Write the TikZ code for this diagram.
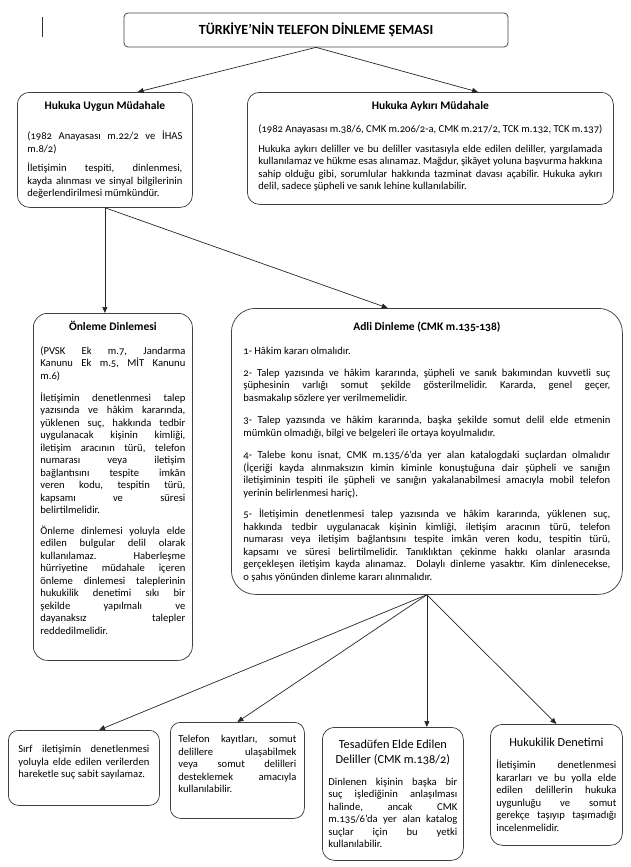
\documentclass[tikz,border=0pt]{standalone}
\usepackage{fontspec}
\setmainfont{Carlito}[Numbers=OldStyle]
\usetikzlibrary{arrows.meta,calc}
\frenchspacing

\newcommand{\bodyfont}{\fontsize{10.6}{12.5}\selectfont}
\newcommand{\headfont}{\fontsize{11.5}{14}\selectfont\bfseries}
\newcommand{\subheadfont}{\fontsize{12.3}{15}\selectfont}
\newcommand{\boxtext}[3]{\begin{minipage}[c][#2pt][t]{#1pt}\bodyfont #3\end{minipage}}
\newcommand{\boxhead}[1]{{\centering\headfont\strut #1\par}}

\tikzset{
  panel/.style={draw=black!75,line width=0.75pt,rounded corners=#1,anchor=north west,inner sep=0pt},
  panel/.default=10pt,
  link/.style={draw=black!85,line width=0.7pt,-{Triangle[length=6pt,width=5pt]}}
}

\begin{document}
\begin{tikzpicture}[x=1pt,y=-1pt]
\useasboundingbox (0,0) rectangle (630,867);
\draw[black!80,line width=0.6pt] (42,17) -- (42,37);

\node[panel=4pt,anchor=center,minimum width=384pt,minimum height=34pt,
  font=\fontsize{14}{16}\selectfont\bfseries] (title) at (316,30) {TÜRKİYE’NİN TELEFON DİNLEME ŞEMASI};

% second row
\node[panel=12pt,inner xsep=10pt,inner ysep=7pt] (uygun) at (17,92) {\boxtext{155}{101}{%
  \boxhead{Hukuka Uygun Müdahale}
  \vspace{16.7pt}
  (1982 Anayasası m.22/2 ve İHAS\linebreak m.8/2)\par
  \vspace{7pt}
  İletişimin tespiti, dinlenmesi,\linebreak kayda alınması ve sinyal bilgilerinin\linebreak değerlendirilmesi mümkündür.}};
\node[panel=12pt,inner xsep=11pt,inner ysep=7pt] (aykiri) at (247,92) {\boxtext{344}{98}{%
  \boxhead{Hukuka Aykırı Müdahale}
  \vspace{10.7pt}
  {\centering (1982 Anayasası m.38/6, CMK m.206/2-a, CMK m.217/2, TCK m.132, TCK m.137)\par}
  \vspace{7.5pt}
  Hukuka aykırı deliller ve bu deliller vasıtasıyla elde edilen deliller, yargılamada\linebreak kullanılamaz ve hükme esas alınamaz. Mağdur, şikâyet yoluna başvurma hakkına\linebreak sahip olduğu gibi, sorumlular hakkında tazminat davası açabilir. Hukuka aykırı\linebreak delil, sadece şüpheli ve sanık lehine kullanılabilir.}};

% third row
\node[panel=14pt,inner xsep=7pt,inner ysep=7pt] (onleme) at (33,313) {\boxtext{145}{333}{%
  \boxhead{Önleme Dinlemesi}
  \vspace{11.7pt}
  (PVSK Ek m.7, Jandarma\linebreak Kanunu Ek m.5, MİT Kanunu\linebreak m.6)\par
  \vspace{9.5pt}
  İletişimin denetlenmesi talep\linebreak yazısında ve hâkim kararında,\linebreak yüklenen suç, hakkında tedbir\linebreak uygulanacak kişinin kimliği,\linebreak iletişim aracının türü, telefon\linebreak numarası veya iletişim\linebreak bağlantısını tespite imkân\linebreak veren kodu, tespitin türü,\linebreak kapsamı ve süresi\linebreak belirtilmelidir.\par
  \vspace{8pt}
  Önleme dinlemesi yoluyla elde\linebreak edilen bulgular delil olarak\linebreak kullanılamaz. Haberleşme\linebreak hürriyetine müdahale içeren\linebreak önleme dinlemesi taleplerinin\linebreak hukukilik denetimi sıkı bir\linebreak şekilde yapılmalı ve\linebreak dayanaksız talepler\linebreak reddedilmelidir.}};
\node[panel=24pt,inner xsep=12pt,inner ysep=12pt] (adli) at (231,308) {\boxtext{367}{262}{%
  \boxhead{Adli Dinleme (CMK m.135-138)}
  \vspace{11.7pt}
  1- Hâkim kararı olmalıdır.\par
  \vspace{9.5pt}
  2- Talep yazısında ve hâkim kararında, şüpheli ve sanık bakımından kuvvetli suç\linebreak şüphesinin varlığı somut şekilde gösterilmelidir. Kararda, genel geçer,\linebreak basmakalıp sözlere yer verilmemelidir.\par
  \vspace{10pt}
  3- Talep yazısında ve hâkim kararında, başka şekilde somut delil elde etmenin\linebreak mümkün olmadığı, bilgi ve belgeleri ile ortaya koyulmalıdır.\par
  \vspace{10pt}
  4- Talebe konu isnat, CMK m.135/6’da yer alan katalogdaki suçlardan olmalıdır\linebreak (İçeriği kayda alınmaksızın kimin kiminle konuştuğuna dair şüpheli ve sanığın\linebreak iletişiminin tespiti ile şüpheli ve sanığın yakalanabilmesi amacıyla mobil telefon\linebreak yerinin belirlenmesi hariç).\par
  \vspace{9pt}
  5- İletişimin denetlenmesi talep yazısında ve hâkim kararında, yüklenen suç,\linebreak hakkında tedbir uygulanacak kişinin kimliği, iletişim aracının türü, telefon\linebreak numarası veya iletişim bağlantısını tespite imkân veren kodu, tespitin türü,\linebreak kapsamı ve süresi belirtilmelidir. Tanıklıktan çekinme hakkı olanlar arasında\linebreak gerçekleşen iletişim kayda alınamaz.\ \ Dolaylı dinleme yasaktır. Kim dinlenecekse,\linebreak o şahıs yönünden dinleme kararı alınmalıdır.}};

% bottom row
\node[panel=10pt,inner xsep=10pt,inner ysep=15pt] (sirf) at (8,730) {\boxtext{131}{45}{%
  Sırf iletişimin denetlenmesi\linebreak yoluyla elde edilen verilerden\linebreak hareketle suç sabit sayılamaz.}};
\node[panel=10pt,inner xsep=8pt,inner ysep=13pt] (telefon) at (170,722) {\boxtext{118}{70}{%
  Telefon kayıtları, somut\linebreak delillere ulaşabilmek\linebreak veya somut delilleri\linebreak desteklemek amacıyla\linebreak kullanılabilir.}};
\node[panel=12pt,inner xsep=6pt,inner ysep=11pt] (tesadufen) at (322,727) {\boxtext{129}{111}{%
  {\centering\subheadfont\strut Tesadüfen Elde Edilen\\ Deliller (CMK m.138/2)\par}
  \vspace{9pt}
  Dinlenen kişinin başka bir\linebreak suç işlediğinin anlaşılması\linebreak halinde, ancak CMK\linebreak m.135/6’da yer alan katalog\linebreak suçlar için bu yetki\linebreak kullanılabilir.}};
\node[panel=12pt,inner xsep=6pt,inner ysep=12pt] (hukukilik) at (490,724) {\boxtext{120}{97}{%
  {\centering\subheadfont\strut Hukukilik Denetimi\par}
  \vspace{7.5pt}
  İletişimin denetlenmesi\linebreak kararları ve bu yolla elde\linebreak edilen delillerin hukuka\linebreak uygunluğu ve somut\linebreak gerekçe taşıyıp taşımadığı\linebreak incelenmelidir.}};

% connectors
\draw[link] (title.south) -- ($(uygun.north west)!0.686!(uygun.north east)$);
\draw[link] (title.south) -- ($(aykiri.north west)!0.63!(aykiri.north east)$);
\draw[link] (uygun.south) -- (uygun.south |- onleme.north);
\draw[link] (uygun.south) -- ($(adli.north west)!0.40!(adli.north east)$);
\draw[link] (adli.south) -- ($(sirf.north west)!0.6!(sirf.north east)$);
\draw[link] (adli.south) -- (telefon.north);
\draw[link] (adli.south) -- (adli.south |- tesadufen.north);
\draw[link] (adli.south) -- (hukukilik.north);
\end{tikzpicture}
\end{document}
